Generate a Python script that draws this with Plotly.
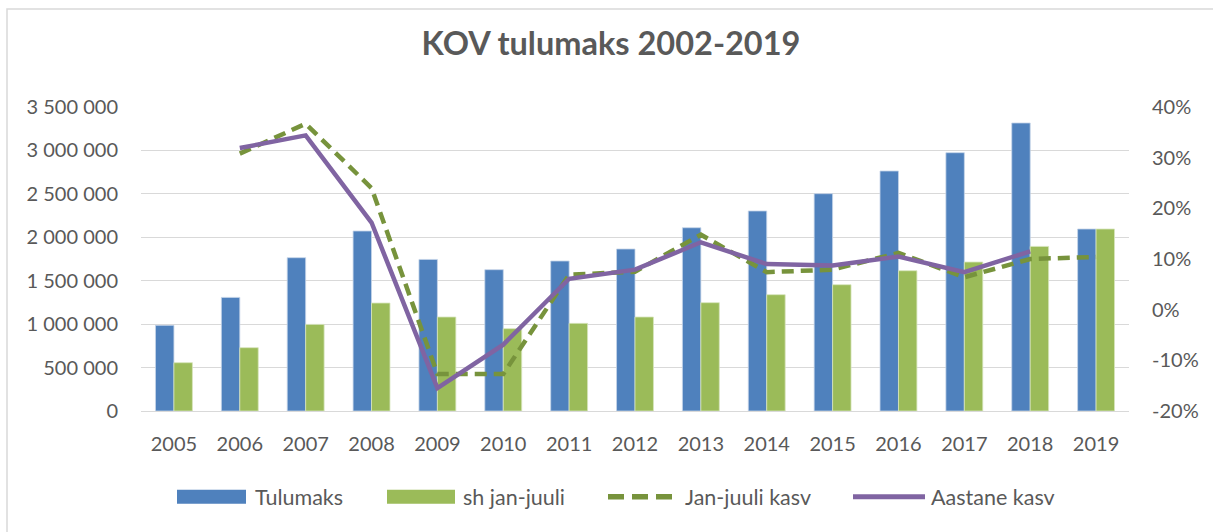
import plotly.graph_objects as go

years = ["2005", "2006", "2007", "2008", "2009", "2010", "2011", "2012", "2013", "2014", "2015", "2016", "2017", "2018", "2019"]
tulumaks = [986000, 1308000, 1765000, 2072000, 1745000, 1627000, 1727000, 1865000, 2110000, 2303000, 2502000, 2763000, 2974000, 3316000, 2095000]
sh_jan_juuli = [556000, 729000, 997000, 1243000, 1082000, 948000, 1009000, 1082000, 1247000, 1339000, 1454000, 1615000, 1715000, 1895000, 2095000]
jan_juuli_kasv = [None, 0.308, 0.367, 0.24, -0.127, -0.127, 0.069, 0.075, 0.148, 0.074, 0.079, 0.112, 0.064, 0.10, 0.104]
aastane_kasv = [None, 0.319, 0.344, 0.172, -0.155, -0.069, 0.061, 0.079, 0.133, 0.090, 0.087, 0.105, 0.074, 0.115, None]
pct_ticks = [-0.2, -0.1, 0.0, 0.1, 0.2, 0.3, 0.4]
pct_labels = ["-20%", "-10%", "0%", "10%", "20%", "30%", "40%"]
series_names = ["Tulumaks", "sh jan-juuli", "Jan-juuli kasv", "Aastane kasv"]

FONT = "Lato"
GREY = "#595959"
BLUE = "#4F81BD"
GREEN = "#9BBB59"
DGREEN = "#77933C"
PURPLE = "#8064A2"

W, H = 1213, 532
L, R, T, B = 141, 1129, 107, 411


def px(x):
    return (x - L) / (R - L)


def py(y):
    return (B - y) / (B - T)


fig = go.Figure()
fig.add_trace(go.Bar(x=years, y=tulumaks, name=series_names[0], marker=dict(color=BLUE, line=dict(color="#C5D4E8", width=0.8))))
fig.add_trace(go.Bar(x=years, y=sh_jan_juuli, name=series_names[1], marker=dict(color=GREEN, line=dict(color="#D7E4BD", width=0.8))))
fig.add_trace(go.Scatter(x=years, y=jan_juuli_kasv, name=series_names[2], yaxis="y2", mode="lines",
                         line=dict(color=DGREEN, width=4.5, dash="12px,7px")))
fig.add_trace(go.Scatter(x=years, y=aastane_kasv, name=series_names[3], yaxis="y2", mode="lines",
                         line=dict(color=PURPLE, width=4.5)))

# custom legend (symbols + text), positioned like the original
leg_y = 496.7
shapes = [dict(type="rect", xref="paper", yref="paper",
               x0=px(7), x1=px(1230), y0=py(545), y1=py(9),
               line=dict(color="#D9D9D9", width=1.5), fillcolor="rgba(0,0,0,0)", layer="below")]
shapes.append(dict(type="rect", xref="paper", yref="paper", x0=px(177), x1=px(246), y0=py(leg_y + 7), y1=py(leg_y - 7),
                   line=dict(width=0), fillcolor=BLUE))
shapes.append(dict(type="rect", xref="paper", yref="paper", x0=px(387), x1=px(455), y0=py(leg_y + 7), y1=py(leg_y - 7),
                   line=dict(width=0), fillcolor=GREEN))
shapes.append(dict(type="line", xref="paper", yref="paper", x0=px(608), x1=px(672), y0=py(leg_y), y1=py(leg_y),
                   line=dict(color=DGREEN, width=5.5, dash="16px,8px")))
shapes.append(dict(type="line", xref="paper", yref="paper", x0=px(853), x1=px(925), y0=py(leg_y), y1=py(leg_y),
                   line=dict(color=PURPLE, width=5)))
text_x = [253, 461, 683, 929]
annotations = [dict(text=n, xref="paper", yref="paper", x=px(tx), y=py(leg_y), xanchor="left", yanchor="middle",
                    showarrow=False, font=dict(family=FONT, size=21.5, color=GREY))
               for n, tx in zip(series_names, text_x)]

fig.update_layout(
    width=W, height=H,
    margin=dict(l=L, r=W - R, t=T, b=H - B),
    paper_bgcolor="white", plot_bgcolor="white",
    separators=". ",
    barmode="group", bargap=0.44, bargroupgap=0,
    showlegend=False,
    font=dict(family=FONT, color=GREY, size=20),
    title=dict(text="<b>KOV tulumaks 2002-2019</b>", x=611 / W, xanchor="center", y=1 - 44 / H, yanchor="middle",
               font=dict(family=FONT, size=32.5, color=GREY)),
    xaxis=dict(showgrid=False, showline=False, ticks="", ticklabelstandoff=19, tickfont=dict(size=20, color=GREY)),
    yaxis=dict(range=[0, 3500000], dtick=500000, tickformat=",d", showgrid=True, gridcolor="#D9D9D9", gridwidth=1,
               zeroline=True, zerolinecolor="#D9D9D9", zerolinewidth=1, ticklabelstandoff=22,
               tickfont=dict(size=20, color=GREY)),
    yaxis2=dict(range=[-0.2, 0.4], tickvals=pct_ticks, ticktext=pct_labels, overlaying="y", side="right",
                showgrid=False, zeroline=False, ticklabelstandoff=22, tickfont=dict(size=20, color=GREY)),
    shapes=shapes,
    annotations=annotations,
)

fig.write_html("out.html", config={"displayModeBar": False},
               post_script="document.body.style.margin='0';document.body.style.padding='0';")
